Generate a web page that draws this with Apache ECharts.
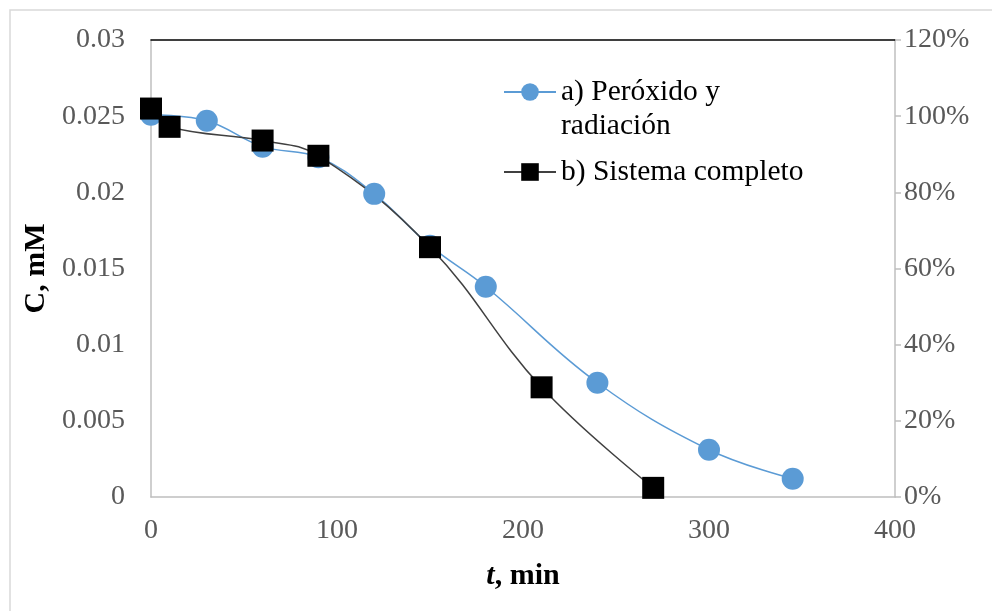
<!DOCTYPE html>
<html>
<head>
<meta charset="utf-8">
<script src="https://cdn.jsdelivr.net/npm/echarts@6/dist/echarts.min.js"></script>
<style>
html,body{margin:0;padding:0;background:#fff;}
#chart{width:992px;height:611px;}
</style>
</head>
<body>
<div id="chart"></div>
<script>
// Data
const seriesNames = ['a) Peróxido y radiación', 'b) Sistema completo'];
const timeA = [0, 30, 60, 90, 120, 150, 180, 240, 300, 345];
const concA = [0.0251, 0.0247, 0.0230, 0.0223, 0.0199, 0.0165, 0.0138, 0.0075, 0.0031, 0.0012];
const timeB = [0, 10, 60, 90, 150, 210, 270];
const concB = [0.0255, 0.0243, 0.0234, 0.0224, 0.0164, 0.0072, 0.0006];
const xTicks = [0, 100, 200, 300, 400];
const yTicks = [0, 0.005, 0.01, 0.015, 0.02, 0.025, 0.03];
const pctTicks = [0, 0.2, 0.4, 0.6, 0.8, 1.0, 1.2];

const FONT = '"Liberation Serif", "Times New Roman", serif';
const pairs = (xs, ys) => xs.map((x, i) => [x, ys[i]]);

const chart = echarts.init(document.getElementById('chart'));
chart.setOption({
  backgroundColor: '#fff',
  animation: false,
  graphic: [{
    type: 'rect', silent: true, z: -10,
    shape: { x: 10, y: 10, width: 1200, height: 1000 },
    style: { fill: 'none', stroke: '#d9d9d9', lineWidth: 1.5 }
  }],
  grid: { left: 151, right: 97, top: 40, bottom: 114 },
  legend: {
    orient: 'vertical',
    left: 498, top: 36,
    itemWidth: 52, itemHeight: 22, itemGap: 12,
    formatter: n => n === seriesNames[0] ? ' \na) Peróxido y\nradiación' : n,
    textStyle: { fontFamily: FONT, fontSize: 29.5, color: '#000', lineHeight: 34 },
    data: [seriesNames[0], seriesNames[1]]
  },
  xAxis: [{
    type: 'value', min: xTicks[0], max: xTicks[xTicks.length - 1], interval: 100,
    position: 'bottom',
    axisLine: { show: true, onZero: false, lineStyle: { color: '#bfbfbf', width: 1.5 } },
    axisTick: { show: false },
    splitLine: { show: false },
    axisLabel: { fontFamily: FONT, fontSize: 28, color: '#595959', margin: 20 },
    name: '{i|t}{b|, min}', nameLocation: 'middle', nameGap: 64,
    nameTextStyle: {
      fontFamily: FONT, fontSize: 30, fontWeight: 'bold', color: '#000',
      rich: {
        i: { fontFamily: FONT, fontSize: 30, fontWeight: 'bold', fontStyle: 'italic', color: '#000' },
        b: { fontFamily: FONT, fontSize: 30, fontWeight: 'bold', color: '#000' }
      }
    }
  }, {
    type: 'value', min: 0, max: 400, interval: 100, position: 'top',
    axisLine: { show: true, onZero: false, lineStyle: { color: '#000', width: 1.5 } },
    axisTick: { show: false }, axisLabel: { show: false }, splitLine: { show: false }
  }],
  yAxis: [{
    type: 'value', min: yTicks[0], max: yTicks[yTicks.length - 1], interval: 0.005,
    position: 'left',
    axisLine: { show: true, onZero: false, lineStyle: { color: '#bfbfbf', width: 1.5 } },
    axisTick: { show: false },
    splitLine: { show: false },
    axisLabel: { fontFamily: FONT, fontSize: 28, color: '#595959', margin: 26,
      formatter: v => String(+v.toFixed(3)) },
    name: 'C, mM', nameLocation: 'middle', nameGap: 100,
    nameTextStyle: { fontFamily: FONT, fontSize: 30, fontWeight: 'bold', color: '#000' }
  }, {
    type: 'value', min: pctTicks[0], max: pctTicks[pctTicks.length - 1], interval: 0.2,
    position: 'right',
    axisLine: { show: true, onZero: false, lineStyle: { color: '#bfbfbf', width: 1.5 } },
    axisTick: { show: true, length: 6, lineStyle: { color: '#bfbfbf', width: 1.5 } },
    splitLine: { show: false },
    axisLabel: { fontFamily: FONT, fontSize: 28, color: '#595959', margin: 9,
      formatter: v => Math.round(v * 100) + '%' }
  }],
  series: [{
    name: seriesNames[0], type: 'line', xAxisIndex: 0, yAxisIndex: 0,
    data: pairs(timeA, concA), smooth: 0.4,
    symbol: 'circle', symbolSize: 22, clip: false,
    lineStyle: { color: '#5B9BD5', width: 1.5 },
    itemStyle: { color: '#5B9BD5' }
  }, {
    name: seriesNames[1], type: 'line', xAxisIndex: 0, yAxisIndex: 0,
    data: pairs(timeB, concB), smooth: 0.4,
    symbol: 'rect', symbolSize: 22, clip: false,
    lineStyle: { color: '#404040', width: 1.5 },
    itemStyle: { color: '#000' }
  }]
});
</script>
</body>
</html>
